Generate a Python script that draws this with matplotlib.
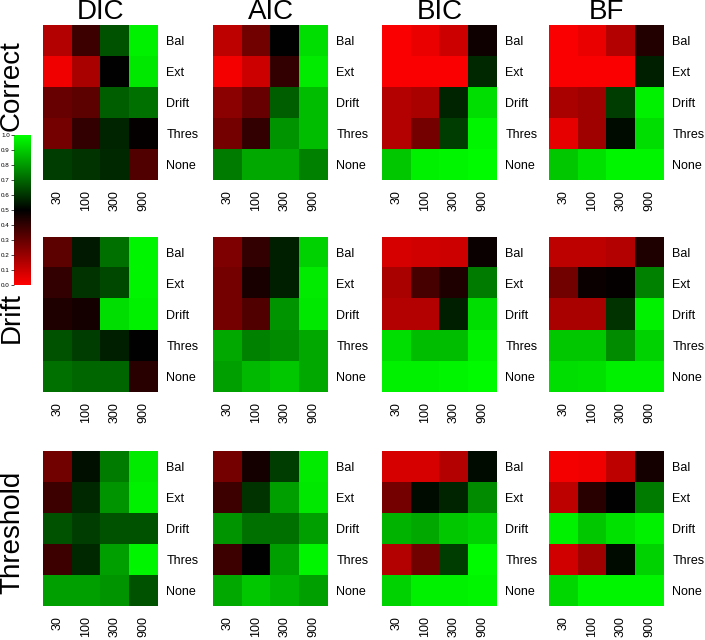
import numpy as np
import matplotlib
matplotlib.use("Agg")
import matplotlib.pyplot as plt
from matplotlib.colors import LinearSegmentedColormap

plt.rcParams["font.family"] = ["Liberation Sans", "DejaVu Sans"]

criteria = ["DIC", "AIC", "BIC", "BF"]
generating = ["Correct", "Drift", "Threshold"]
models = ["Bal", "Ext", "Drift", "Thres", "None"]
sizes = ["30", "100", "300", "900"]

# proportion of correct selections, rows = models, cols = sample sizes
correct_dic = [[0.15, 0.38, 0.66, 0.97], [0.03, 0.17, 0.50, 0.95], [0.30, 0.32, 0.68, 0.72],
               [0.27, 0.40, 0.57, 0.49], [0.62, 0.60, 0.58, 0.34]]
correct_aic = [[0.13, 0.28, 0.50, 0.93], [0.02, 0.10, 0.40, 0.96], [0.23, 0.30, 0.68, 0.87],
               [0.27, 0.40, 0.79, 0.87], [0.74, 0.83, 0.83, 0.75]]
correct_bic = [[0.01, 0.04, 0.10, 0.47], [0.01, 0.01, 0.01, 0.58], [0.15, 0.17, 0.57, 0.93],
               [0.15, 0.27, 0.62, 0.98], [0.89, 0.97, 0.98, 0.99]]
correct_bf = [[0.01, 0.04, 0.15, 0.43], [0.01, 0.01, 0.01, 0.56], [0.17, 0.19, 0.62, 0.97],
              [0.05, 0.19, 0.52, 0.93], [0.89, 0.94, 0.98, 0.98]]

drift_dic = [[0.32, 0.55, 0.72, 0.98], [0.40, 0.60, 0.64, 0.98], [0.44, 0.46, 0.93, 0.97],
             [0.66, 0.62, 0.56, 0.50], [0.72, 0.70, 0.70, 0.42]]
drift_aic = [[0.25, 0.40, 0.56, 0.91], [0.27, 0.45, 0.56, 0.96], [0.27, 0.34, 0.79, 0.95],
             [0.83, 0.75, 0.77, 0.83], [0.81, 0.86, 0.89, 0.83]]
drift_bic = [[0.08, 0.09, 0.10, 0.48], [0.17, 0.36, 0.44, 0.74], [0.15, 0.15, 0.56, 0.93],
             [0.93, 0.87, 0.87, 0.97], [0.97, 0.97, 0.98, 0.99]]
drift_bf = [[0.13, 0.13, 0.15, 0.44], [0.28, 0.48, 0.49, 0.75], [0.17, 0.17, 0.60, 0.97],
            [0.89, 0.89, 0.77, 0.91], [0.93, 0.94, 0.97, 0.97]]

thres_dic = [[0.28, 0.53, 0.74, 0.96], [0.38, 0.58, 0.79, 0.97], [0.66, 0.62, 0.66, 0.66],
             [0.38, 0.58, 0.81, 0.98], [0.81, 0.81, 0.79, 0.66]]
thres_aic = [[0.27, 0.46, 0.62, 0.96], [0.38, 0.60, 0.81, 0.95], [0.79, 0.72, 0.72, 0.81],
             [0.38, 0.50, 0.81, 0.98], [0.83, 0.89, 0.85, 0.81]]
thres_bic = [[0.08, 0.08, 0.15, 0.52], [0.27, 0.52, 0.57, 0.77], [0.85, 0.83, 0.89, 0.91],
             [0.15, 0.28, 0.62, 0.99], [0.91, 0.97, 0.97, 0.98]]
thres_bf = [[0.02, 0.03, 0.13, 0.46], [0.13, 0.42, 0.50, 0.74], [0.97, 0.89, 0.94, 0.97],
            [0.09, 0.19, 0.52, 0.91], [0.92, 0.98, 0.98, 0.98]]

panels = [[correct_dic, correct_aic, correct_bic, correct_bf],
          [drift_dic, drift_aic, drift_bic, drift_bf],
          [thres_dic, thres_aic, thres_bic, thres_bf]]

cmap = LinearSegmentedColormap.from_list("rbg", ["#ff0000", "#000000", "#00ff00"])

W, H = 705, 640
fig = plt.figure(figsize=(W / 100, H / 100), dpi=100)


def px_axes(x, y, w, h):
    # pixel box (top-left origin) -> figure axes
    return fig.add_axes([x / W, 1 - (y + h) / H, w / W, h / H])


col_x = [43, 213, 382, 549]
row_y = [25, 237, 451]
pw, ph = 115, 155

for i, row in enumerate(panels):
    for j, data in enumerate(row):
        ax = px_axes(col_x[j], row_y[i], pw, ph)
        ax.imshow(np.array(data), cmap=cmap, vmin=0, vmax=1,
                  aspect="auto", interpolation="nearest")
        ax.set_xticks(range(len(sizes)))
        ax.set_xticklabels(sizes, rotation=90, fontsize=9, va="top")
        ax.set_yticks(range(len(models)))
        ax.set_yticklabels(models, fontsize=9)
        ax.yaxis.tick_right()
        ax.tick_params(axis="x", length=0, pad=7)
        ax.tick_params(axis="y", length=0, pad=6)
        for s in ax.spines.values():
            s.set_visible(False)
        if i == 0:
            ax.set_title(criteria[j], fontsize=20, pad=2)

# row titles
fig.text(12 / W, 1 - 86 / H, generating[0], rotation=90, fontsize=20, ha="center", va="center")
fig.text(12 / W, 1 - 318 / H, generating[1], rotation=90, fontsize=20, ha="center", va="center")
fig.text(12 / W, 1 - 532 / H, generating[2], rotation=90, fontsize=20, ha="center", va="center")

# colour key
cax = px_axes(14, 135, 16, 150)
grad = np.linspace(0, 1, 256).reshape(-1, 1)
cax.imshow(grad, cmap=cmap, aspect="auto", origin="lower", extent=[0, 1, 0, 1])
cax.set_xticks([])
cax.set_yticks(np.arange(0, 1.01, 0.1))
cax.set_yticklabels([f"{v:.1f}" for v in np.arange(0, 1.01, 0.1)], fontsize=4.5)
cax.tick_params(axis="y", length=2, width=0.5, pad=1)
for s in cax.spines.values():
    s.set_visible(False)

fig.savefig("out.png", dpi=100)
